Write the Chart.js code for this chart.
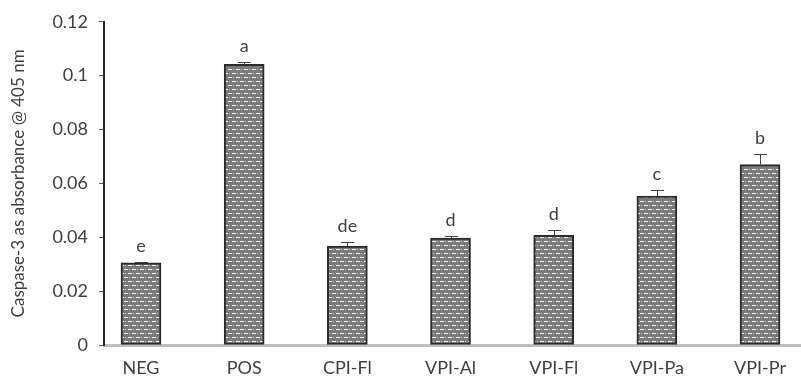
<!DOCTYPE html>
<html>
<head>
<meta charset="utf-8">
<script src="https://cdn.jsdelivr.net/npm/chart.js@4.4.1/dist/chart.umd.min.js"></script>
<style>
  html, body { margin: 0; padding: 0; background: #ffffff; }
  #wrap { width: 801px; height: 376px; position: relative; }
</style>
</head>
<body>
<div id="wrap"><canvas id="c" width="801" height="376"></canvas></div>
<script>
// Caspase-3 activity per treatment group
const categories = ['NEG', 'POS', 'CPI-Fl', 'VPI-Al', 'VPI-Fl', 'VPI-Pa', 'VPI-Pr'];
const absorbance = [0.0305, 0.1042, 0.0367, 0.0397, 0.0407, 0.0553, 0.0670];
const errors = [0.0003, 0.0010, 0.0016, 0.0006, 0.0019, 0.0024, 0.0038];
const groupLetters = ['e', 'a', 'de', 'd', 'd', 'c', 'b'];
const yTickLabels = ['0', '0.02', '0.04', '0.06', '0.08', '0.1', '0.12'];

const FONT = 'Lato, "Open Sans", sans-serif';
const TEXT = '#404040';

// Grey fill with staggered white dashes
function makeDashPattern() {
  const t = document.createElement('canvas');
  t.width = 8; t.height = 8;
  const g = t.getContext('2d');
  g.fillStyle = '#7a7a7a';
  g.fillRect(0, 0, 8, 8);
  g.fillStyle = '#f4f4f4';
  g.fillRect(0, 1, 4, 1);
  g.fillRect(4, 5, 4, 1);
  g.fillStyle = '#c8c8c8';
  g.fillRect(5, 1, 1, 1);
  g.fillRect(1, 5, 1, 1);
  return document.getElementById('c').getContext('2d').createPattern(t, 'repeat');
}

// Upper error bars and significance letters
const annotate = {
  id: 'annotate',
  afterDatasetsDraw(chart) {
    const { ctx, scales: { x, y } } = chart;
    ctx.save();
    absorbance.forEach((v, i) => {
      const px = x.getPixelForValue(i);
      const top = y.getPixelForValue(v);
      const errTop = y.getPixelForValue(v + errors[i]);
      ctx.strokeStyle = '#404040';
      ctx.lineWidth = 1;
      ctx.beginPath();
      ctx.moveTo(Math.round(px) + 0.5, top);
      ctx.lineTo(Math.round(px) + 0.5, Math.round(errTop) + 0.5);
      ctx.moveTo(Math.round(px) - 6, Math.round(errTop) + 0.5);
      ctx.lineTo(Math.round(px) + 7, Math.round(errTop) + 0.5);
      ctx.stroke();
      ctx.fillStyle = TEXT;
      ctx.font = '18px ' + FONT;
      ctx.textAlign = 'center';
      ctx.textBaseline = 'alphabetic';
      ctx.fillText(groupLetters[i], px, errTop - 10);
    });
    ctx.restore();
  }
};

new Chart(document.getElementById('c'), {
  type: 'bar',
  data: {
    datasets: [{
      data: absorbance.map((v, i) => ({ x: i, y: v })),
      backgroundColor: makeDashPattern(),
      borderColor: '#2b2b2b',
      borderWidth: 2,
      borderSkipped: false,
      barThickness: 40
    }]
  },
  options: {
    responsive: false,
    animation: false,
    events: [],
    layout: { padding: { top: 21, right: 0, bottom: 0, left: 0 } },
    plugins: { legend: { display: false }, tooltip: { enabled: false } },
    scales: {
      x: {
        type: 'linear',
        offset: false,
        min: -0.3586,
        max: 6.397,
        z: 1,
        grid: { display: false, drawTicks: false, offset: false },
        border: { display: true, color: '#bfbfbf', width: 3 },
        ticks: {
          stepSize: 1,
          includeBounds: false,
          autoSkip: false,
          maxRotation: 0,
          padding: 12,
          color: TEXT,
          font: { family: FONT, size: 18 },
          callback: (v) => Number.isInteger(v) && categories[v] !== undefined ? categories[v] : ''
        },
        afterFit: (s) => { s.height = 31; }
      },
      y: {
        min: 0,
        max: 0.12,
        grid: { drawOnChartArea: false, drawTicks: true, tickLength: 5, color: '#595959', lineWidth: 1 },
        border: { display: true, color: '#262626', width: 2 },
        ticks: {
          stepSize: 0.02,
          padding: 11,
          color: TEXT,
          font: { family: FONT, size: 18 },
          callback: (v, idx) => yTickLabels[idx]
        },
        title: {
          display: true,
          text: 'Caspase-3 as absorbance @ 405 nm',
          color: TEXT,
          font: { family: FONT, size: 17 },
          padding: { top: 8, bottom: 0 }
        },
        afterFit: (s) => { s.width = 104; }
      }
    }
  },
  plugins: [annotate]
});
</script>
</body>
</html>
